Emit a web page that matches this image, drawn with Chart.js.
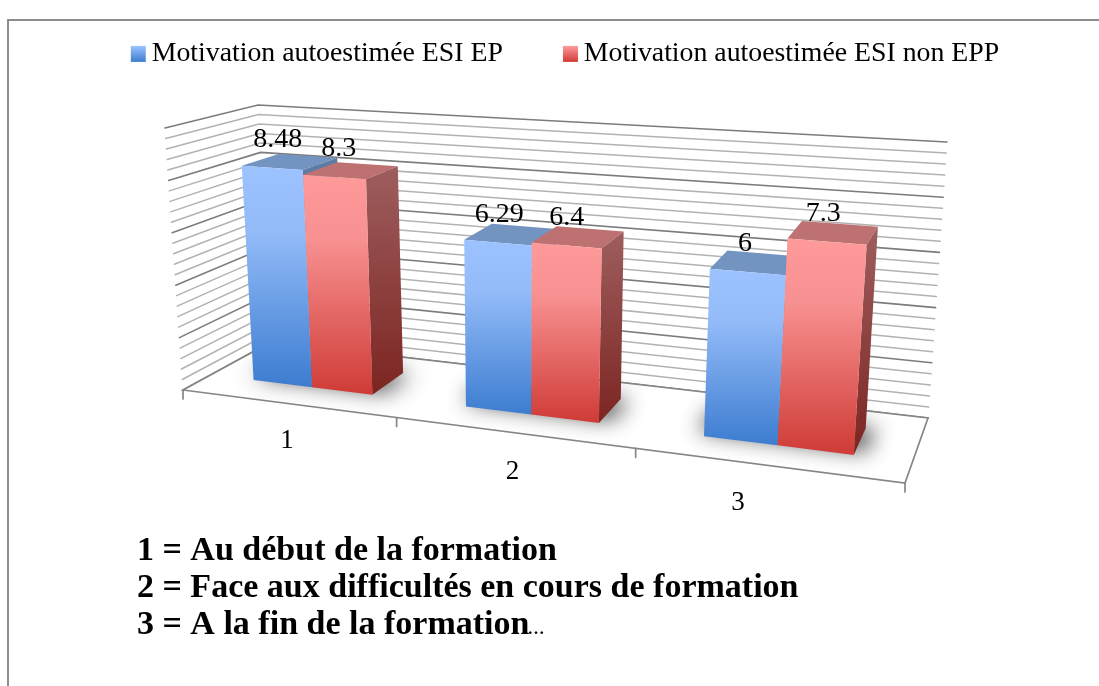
<!DOCTYPE html>
<html><head><meta charset="utf-8">
<style>html,body{margin:0;padding:0;background:#fff}canvas{display:block}</style>
<script src="https://cdn.jsdelivr.net/npm/chart.js@4/dist/chart.umd.min.js"></script>
</head><body><canvas id="c" width="1099" height="686"></canvas>
<script>
const categories = ["1","2","3"];
const seriesNames = ["Motivation autoestimée ESI EP","Motivation autoestimée ESI non EPP"];
const seriesEP = [8.48,6.29,6];
const seriesNonEPP = [8.3,6.4,7.3];
const valueLabelsEP = ["8.48","6.29","6"];
const valueLabelsNonEPP = ["8.3","6.4","7.3"];
const notes = ["1 = Au début de la formation","2 = Face aux difficultés en cours de formation","3 = A la fin de la formation"];
const noteTail = "…";

const SERIF = '"Liberation Serif","DejaVu Serif",serif';
const C = {
  flb:[183,390], frb:[905,483], brb:[928,418], blb:[271,342],
  flt:[165,128], frt:[927,178], brt:[947,142], blt:[258,105]
};
const BAR_SCALE=.985;
const warp = u => u/(u+1.19*(1-u));
const mix=(a,b,t)=>[a[0]+(b[0]-a[0])*t,a[1]+(b[1]-a[1])*t];
function P(u,h,d){
  const w=warp(u);
  const bot=mix(mix(C.flb,C.frb,w),mix(C.blb,C.brb,w),d);
  const top=mix(mix(C.flt,C.frt,w),mix(C.blt,C.brt,w),d);
  return mix(bot,top,h);
}
function poly(ctx,pts,dx=0){ctx.beginPath();pts.forEach((p,i)=>i?ctx.lineTo(p[0]+dx,p[1]):ctx.moveTo(p[0]+dx,p[1]));ctx.closePath();}
function grad(ctx,y0,y1,stops){const g=ctx.createLinearGradient(0,y0,0,y1);stops.forEach(s=>g.addColorStop(s[0],s[1]));return g;}
const D0=.32,D1=.74;
const faces=[
 {front:[[0,'#9cc3ff'],[.3,'#93bbf8'],[1,'#3c7cd0']],side:[[0,'#5f7da6'],[1,'#27508a']],top:'#7393c0',legend:[[0,'#9cc3ff'],[1,'#3c7cd0']]},
 {front:[[0,'#ff9a9a'],[.3,'#f79090'],[1,'#cf3b36']],side:[[0,'#9e5e5e'],[1,'#7c2521']],top:'#bd7171',legend:[[0,'#ff9a9a'],[1,'#cf3b36']]}
];
const scene={id:'scene',
 beforeDatasetsDraw(chart){
  const ctx=chart.ctx,ys=chart.scales.y,a=chart.chartArea;
  ctx.save();
  ctx.lineCap='round';
  ys.ticks.forEach(t=>{
    const h=(ys.getPixelForValue(0)-ys.getPixelForValue(t.value))/(a.bottom-a.top);
    const major=Math.abs(t.value/2-Math.round(t.value/2))<1e-6;
    ctx.strokeStyle=major?'#7c7c7c':'#b2b2b2';ctx.lineWidth=major?1.6:1.5;
    const p=[P(0,h,0),P(0,h,1),P(1,h,1)];
    ctx.beginPath();ctx.moveTo(...p[0]);ctx.lineTo(...p[1]);ctx.lineTo(...p[2]);ctx.stroke();
  });
  ctx.fillStyle='#fff';poly(ctx,[P(0,0,0),P(1,0,0),P(1,0,1),P(0,0,1)]);ctx.fill();
  ctx.strokeStyle='#868686';ctx.lineWidth=1.7;ctx.stroke();
  categories.concat(['']).forEach((c,i)=>{
    const p=P(i/categories.length,0,0);
    ctx.beginPath();ctx.moveTo(...p);ctx.lineTo(p[0],p[1]+9);ctx.stroke();
  });
  ctx.fillStyle='#000';ctx.font='27px '+SERIF;ctx.textAlign='center';ctx.textBaseline='middle';
  const xs=chart.scales.x;
  categories.forEach((c,i)=>{
    const u=(xs.getPixelForValue(i)-a.left)/(a.right-a.left);
    ctx.fillText(c,287+(u-1/6)*676.5,441+(u-1/6)*93);
  });
  ctx.restore();
 },
 afterDatasetsDraw(chart){
  const ctx=chart.ctx,a=chart.chartArea,W=a.right-a.left,H=a.bottom-a.top;
  const metas=[chart.getDatasetMeta(0),chart.getDatasetMeta(1)];
  const labels=[valueLabelsEP,valueLabelsNonEPP];
  ctx.save();
  categories.forEach((c,i)=>{
    const e0=metas[0].data[i],e1=metas[1].data[i];
    const ua=(e0.x-e0.width/2-a.left)/W,ub=(e1.x+e1.width/2-a.left)/W;
    ctx.save();
    const off=3000;
    ctx.shadowColor='rgba(30,30,30,.85)';ctx.shadowBlur=22;ctx.shadowOffsetX=off;ctx.shadowOffsetY=0;ctx.fillStyle='#000';
    const fp=[P(ua-.012,0,D0+.08),P(ub+.012,0,D0+.08),P(ub+.012,0,D1),P(ua-.012,0,D1)];
    poly(ctx,fp,-off);ctx.fill();
    ctx.restore();
    metas.forEach((m,k)=>{
      const e=m.data[i],u0=(e.x-e.width/2-a.left)/W,u1=(e.x+e.width/2-a.left)/W,h=BAR_SCALE*(e.base-e.y)/H,f=faces[k];
      const top=[P(u0,h,D0),P(u1,h,D0),P(u1,h,D1),P(u0,h,D1)];
      ctx.fillStyle=f.top;poly(ctx,top);ctx.fill();
      const s=[P(u1,h,D0),P(u1,h,D1),P(u1,0,D1),P(u1,0,D0)];
      ctx.fillStyle=grad(ctx,s[1][1],s[3][1],f.side);poly(ctx,s);ctx.fill();
      const fr=[P(u0,h,D0),P(u1,h,D0),P(u1,0,D0),P(u0,0,D0)];
      ctx.fillStyle=grad(ctx,fr[0][1],fr[2][1],f.front);poly(ctx,fr);ctx.fill();
    });
  });
  ctx.fillStyle='#000';ctx.font='28px '+SERIF;ctx.textAlign='center';ctx.textBaseline='middle';
  metas.forEach((m,k)=>m.data.forEach((e,i)=>{
    const u0=(e.x-e.width/2-a.left)/W,u1=(e.x+e.width/2-a.left)/W,h=BAR_SCALE*(e.base-e.y)/H;
    const p=P((u0+u1)/2,h,D0);
    ctx.fillText(labels[k][i],p[0]+7-12*(u0+u1)/2,p[1]-28);
  }));
  // frame
  ctx.strokeStyle='#8c8c8c';ctx.lineWidth=2;
  ctx.beginPath();ctx.moveTo(8,686);ctx.lineTo(8,20);ctx.lineTo(1099,20);ctx.stroke();
  // notes
  ctx.font='bold 34px '+SERIF;ctx.textAlign='left';
  notes.forEach((t,i)=>ctx.fillText(t,137,551+37*i));
  const w=ctx.measureText(notes[2]).width;
  ctx.font='bold 17px '+SERIF;ctx.fillText(noteTail,137+w-2,630);
  // legend markers, drawn wider than the layout box so the text sits close to them
  chart.legend.legendHitBoxes.forEach((b,i)=>{
    const y=b.top+b.height/2-8;
    ctx.fillStyle=grad(ctx,y,y+16,faces[i].legend);
    ctx.fillRect(b.left,y,15,16);
  });
  ctx.restore();
 }
};
new Chart(document.getElementById('c'),{
 type:'bar',
 data:{labels:categories,datasets:[
  {label:seriesNames[0],data:seriesEP,backgroundColor:'transparent',categoryPercentage:.573,barPercentage:1},
  {label:seriesNames[1],data:seriesNonEPP,backgroundColor:'transparent',categoryPercentage:.573,barPercentage:1}
 ]},
 plugins:[scene],
 options:{responsive:false,animation:false,
  layout:{padding:{left:31,top:-20,bottom:20,right:0}},
  scales:{x:{display:false},y:{display:false,min:0,max:10,ticks:{stepSize:.4}}},
  plugins:{tooltip:{enabled:false},
   legend:{position:'top',labels:{boxWidth:7,boxHeight:15,padding:60,color:'#000',font:{family:SERIF,size:27.8},
    generateLabels(chart){return chart.data.datasets.map((d,i)=>({text:d.label,datasetIndex:i,lineWidth:0,strokeStyle:'transparent',fontColor:'#000',fillStyle:'transparent'}));}}}
  }}
});
</script></body></html>
